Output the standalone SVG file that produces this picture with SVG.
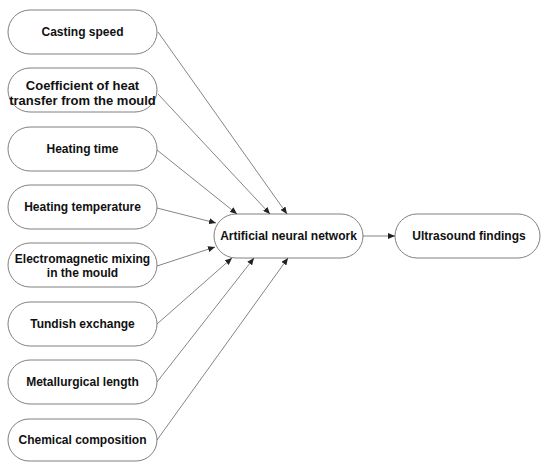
<svg xmlns="http://www.w3.org/2000/svg" width="542" height="462" viewBox="0 0 542 462">
<defs>
<style>
.node rect{fill:#fff;stroke:#808080;stroke-width:1}
.node text{font-family:"Liberation Sans",Arial,sans-serif;font-weight:bold;font-size:12px;fill:#111;text-anchor:middle}
.node text.big{font-size:13px}
.edges line{stroke:#666;stroke-width:0.8}
</style>
<marker id="arr" markerWidth="8" markerHeight="6" refX="7" refY="3" orient="auto" markerUnits="userSpaceOnUse">
<path d="M0,0 L7,3 L0,6 Z" fill="#222"/>
</marker>
</defs>
<rect width="542" height="462" fill="#fff"/>
<g id="n1" class="node"><rect x="8" y="10" width="149" height="44" rx="22"/><text x="82.5" y="36">Casting speed</text></g>
<g id="n2" class="node"><rect x="8" y="68" width="149" height="44" rx="22"/><text class="big" x="82.5" y="89.5">Coefficient of heat</text><text class="big" x="82.5" y="104.5">transfer from the mould</text></g>
<g id="n3" class="node"><rect x="8" y="127" width="149" height="44" rx="22"/><text x="82.5" y="153">Heating time</text></g>
<g id="n4" class="node"><rect x="8" y="185" width="149" height="44" rx="22"/><text x="82.5" y="211">Heating temperature</text></g>
<g id="n5" class="node"><rect x="8" y="243" width="149" height="44" rx="22"/><text x="82.5" y="263">Electromagnetic mixing</text><text x="82.5" y="277">in the mould</text></g>
<g id="n6" class="node"><rect x="8" y="302" width="149" height="44" rx="22"/><text x="82.5" y="328">Tundish exchange</text></g>
<g id="n7" class="node"><rect x="8" y="360" width="149" height="44" rx="22"/><text x="82.5" y="386">Metallurgical length</text></g>
<g id="n8" class="node"><rect x="8" y="419" width="149" height="42" rx="21"/><text x="82.5" y="444">Chemical composition</text></g>
<g id="ann" class="node"><rect x="214" y="214" width="149" height="44" rx="22"/><text x="288.5" y="240">Artificial neural network</text></g>
<g id="us" class="node"><rect x="395" y="214" width="145" height="44" rx="22"/><text x="469" y="240">Ultrasound findings</text></g>
<g id="connectors" class="edges">
<line x1="158" y1="32" x2="287" y2="214" marker-end="url(#arr)"/>
<line x1="158" y1="94" x2="270" y2="214" marker-end="url(#arr)"/>
<line x1="157" y1="150" x2="237" y2="214" marker-end="url(#arr)"/>
<line x1="157" y1="208" x2="216" y2="223" marker-end="url(#arr)"/>
<line x1="157" y1="266" x2="215" y2="247" marker-end="url(#arr)"/>
<line x1="157" y1="324" x2="232" y2="258" marker-end="url(#arr)"/>
<line x1="157" y1="382" x2="254" y2="258" marker-end="url(#arr)"/>
<line x1="157" y1="440" x2="288" y2="258" marker-end="url(#arr)"/>
<line x1="363" y1="236" x2="395" y2="236" marker-end="url(#arr)"/>
</g>
</svg>
